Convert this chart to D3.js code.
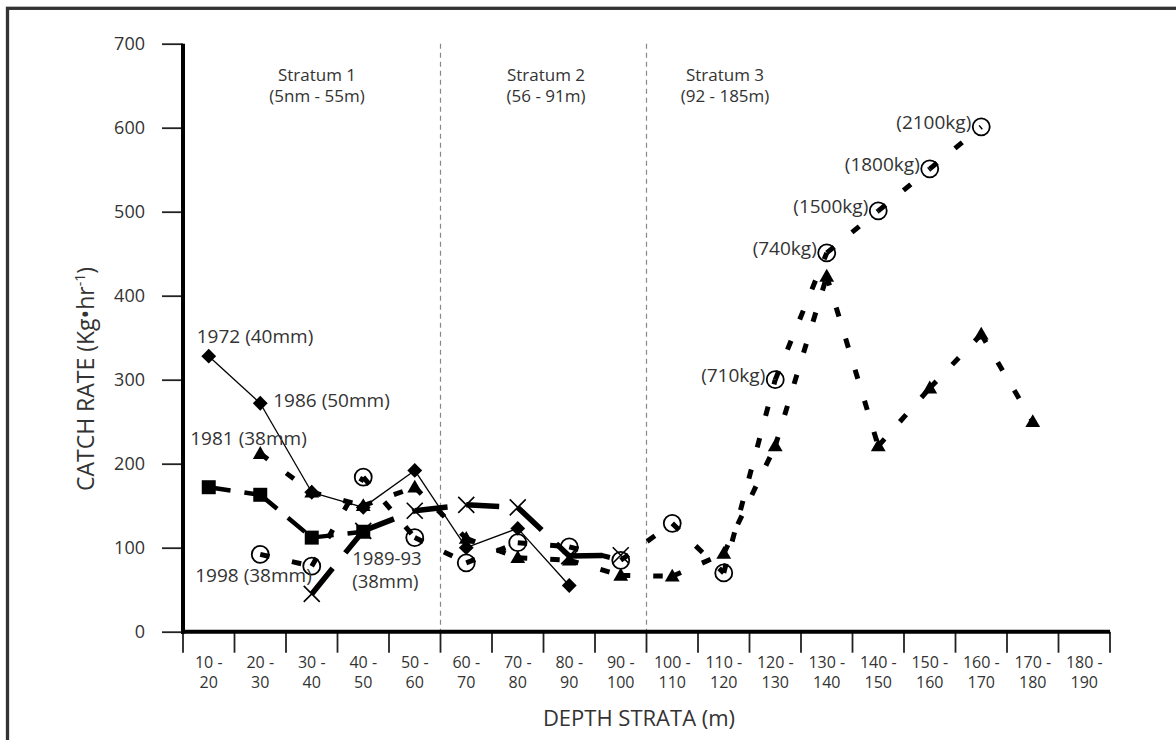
<!DOCTYPE html>
<html>
<head>
<meta charset="utf-8">
<script src="https://cdn.jsdelivr.net/npm/d3@7"></script>
<style>
body { margin: 0; background: #fff; }
svg text { font-family: "Open Sans", "Noto Sans", sans-serif; fill: #333; }
</style>
</head>
<body>
<svg id="chart" width="1176" height="740"></svg>
<script>
// depth strata (m)
var cats = ["10-20", "20-30", "30-40", "40-50", "50-60", "60-70", "70-80", "80-90", "90-100",
            "100-110", "110-120", "120-130", "130-140", "140-150", "150-160", "160-170", "170-180", "180-190"];
var yTicks = [0, 100, 200, 300, 400, 500, 600, 700];

// catch rate (kg/hr) per stratum, null = no tow
var diamonds  = [328, 272, 166, 148, 192, 100, 123, 55, null, null, null, null, null, null, null, null, null, null];
var triangles = [null, 212, 166, 150, 172, 111, 88, 85, 67, 66, 93, 221, 423, 221, 290, 354, 250, null];
var circles   = [null, 92, 78, 184, 112, 82, 106, 101, 85, 129, 70, 300, 451, 501, 551, 601, null, null];
var squares   = [172, 163, 112, 119, null, null, null, null, null, null, null, null, null, null, null, null, null, null];
var crosses   = [null, null, 45, 120, 144, 151, 148, 90, 91, null, null, null, null, null, null, null, null, null];

var catchCats   = ["120-130", "130-140", "140-150", "150-160", "160-170"];
var catchLabels = ["(710kg)", "(740kg)", "(1500kg)", "(1800kg)", "(2100kg)"];

var strataNames  = ["Stratum 1", "Stratum 2", "Stratum 3"];
var strataRanges = ["(5nm - 55m)", "(56 - 91m)", "(92 - 185m)"];
var strataBreaks = ["60-70", "100-110"];

var svg = d3.select("#chart");

// outer frame (only top and left edges show)
svg.append("rect")
    .attr("x", 7.5).attr("y", 8.3)
    .attr("width", 1400).attr("height", 1000)
    .attr("fill", "none")
    .attr("stroke", "#333")
    .attr("stroke-width", 3.3);

var x = d3.scaleBand().domain(cats).range([183, 1110]);
var bw = x.bandwidth();
function xc(c) { return x(c) + bw / 2; }
var y = d3.scaleLinear().domain([0, 700]).range([631.7, 43.7]);

// stratum separators
svg.selectAll(".sep")
    .data(strataBreaks)
    .enter().append("line")
    .attr("x1", function(d) { return x(d); })
    .attr("x2", function(d) { return x(d); })
    .attr("y1", y(700)).attr("y2", y(0))
    .attr("stroke", "#888")
    .attr("stroke-width", 1.2)
    .attr("stroke-dasharray", "5,4");

// y axis
var yAxis = d3.axisLeft(y).tickValues(yTicks).tickSize(21).tickPadding(17);
var gy = svg.append("g").attr("transform", "translate(183,0)").call(yAxis);
gy.select(".domain").remove();
gy.selectAll("line").attr("stroke", "#222").attr("stroke-width", 1.8);
gy.selectAll("text").style("font-size", "18px").attr("fill", "#333");

// x axis ticks at stratum edges
var edges = cats.map(function(c) { return x(c); }).concat([x.range()[1]]);
svg.selectAll(".xtick")
    .data(edges)
    .enter().append("line")
    .attr("x1", function(d) { return d; })
    .attr("x2", function(d) { return d; })
    .attr("y1", y(0)).attr("y2", y(0) + 21)
    .attr("stroke", "#222")
    .attr("stroke-width", 1.8);

// two-line tick labels, one text per line
svg.selectAll(".xlab1")
    .data(cats)
    .enter().append("text")
    .attr("x", function(d) { return xc(d); })
    .attr("y", 667.5)
    .attr("text-anchor", "middle")
    .style("font-size", "16px")
    .text(function(d) { return d.split("-")[0] + " -"; });
svg.selectAll(".xlab2")
    .data(cats)
    .enter().append("text")
    .attr("x", function(d) { return xc(d); })
    .attr("y", 688)
    .attr("text-anchor", "middle")
    .style("font-size", "16px")
    .text(function(d) { return d.split("-")[1]; });

// axis lines
svg.append("line")
    .attr("x1", 183).attr("x2", 183)
    .attr("y1", y(700)).attr("y2", y(0) + 2)
    .attr("stroke", "#000").attr("stroke-width", 4);
svg.append("line")
    .attr("x1", 181).attr("x2", x.range()[1])
    .attr("y1", y(0)).attr("y2", y(0))
    .attr("stroke", "#000").attr("stroke-width", 4);

// axis titles
svg.append("text")
    .attr("x", 639).attr("y", 726)
    .attr("text-anchor", "middle")
    .style("font-size", "22px")
    .text("DEPTH STRATA (m)");

var yt = svg.append("text")
    .attr("transform", "translate(94,379) rotate(-90)")
    .attr("text-anchor", "middle")
    .style("font-size", "23px");
yt.append("tspan").text("CATCH RATE (Kg\u2022hr");
yt.append("tspan").attr("dy", -9).style("font-size", "14px").text("-1");
yt.append("tspan").attr("dy", 9).text(")");

// stratum headings
var strataX = [317, 546, 725];
strataNames.forEach(function(s, i) {
    svg.append("text")
        .attr("x", strataX[i]).attr("y", 81)
        .attr("text-anchor", "middle")
        .style("font-size", "17px")
        .text(s);
    svg.append("text")
        .attr("x", strataX[i]).attr("y", 102)
        .attr("text-anchor", "middle")
        .style("font-size", "17px")
        .text(strataRanges[i]);
});

// series
function points(vals) {
    var pts = [];
    vals.forEach(function(v, i) {
        if (v != null) pts.push({ c: cats[i], v: v, x: xc(cats[i]), y: y(v) });
    });
    return pts;
}

var line = d3.line()
    .x(function(d) { return d.x; })
    .y(function(d) { return d.y; });

// each segment restarts its dash pattern, like the source chart
function drawLine(pts, width, dash) {
    var g = svg.append("g");
    g.selectAll("path")
        .data(d3.pairs(pts))
        .enter().append("path")
        .attr("d", line)
        .attr("fill", "none")
        .attr("stroke", "#000")
        .attr("stroke-width", width)
        .attr("stroke-dasharray", dash);
}

var pCross = points(crosses);
var pSquare = points(squares);
var pCircle = points(circles);
var pTri = points(triangles);
var pDia = points(diamonds);

drawLine(pCross, 5.5, "33,20");
drawLine(pSquare, 4.5, "22,14");
drawLine(pCircle, 5, "9.5,23");
drawLine(pTri, 5, "9.5,23");
drawLine(pDia, 1.3, null);

// markers
svg.append("g").selectAll("path")
    .data(pCross)
    .enter().append("path")
    .attr("d", function(d) {
        return "M" + (d.x - 8) + "," + (d.y - 8) + "L" + (d.x + 8) + "," + (d.y + 8) +
               "M" + (d.x - 8) + "," + (d.y + 8) + "L" + (d.x + 8) + "," + (d.y - 8);
    })
    .attr("stroke", "#000")
    .attr("stroke-width", 1.6);

svg.append("g").selectAll("path")
    .data(pSquare)
    .enter().append("path")
    .attr("transform", function(d) { return "translate(" + d.x + "," + d.y + ")"; })
    .attr("d", d3.symbol().type(d3.symbolSquare).size(196))
    .attr("fill", "#000");

svg.append("g").selectAll("circle")
    .data(pCircle)
    .enter().append("circle")
    .attr("cx", function(d) { return d.x; })
    .attr("cy", function(d) { return d.y; })
    .attr("r", 8.5)
    .attr("fill", "none")
    .attr("stroke", "#000")
    .attr("stroke-width", 1.8);

svg.append("g").selectAll("path")
    .data(pTri)
    .enter().append("path")
    .attr("transform", function(d) { return "translate(" + d.x + "," + (d.y + 1) + ")"; })
    .attr("d", d3.symbol().type(d3.symbolTriangle).size(95))
    .attr("fill", "#000");

svg.append("g").selectAll("path")
    .data(pDia)
    .enter().append("path")
    .attr("transform", function(d) { return "translate(" + d.x + "," + d.y + ") rotate(45)"; })
    .attr("d", d3.symbol().type(d3.symbolSquare).size(110))
    .attr("fill", "#000");

// catch weight labels on the 1998 circles
svg.selectAll(".catch")
    .data(catchCats)
    .enter().append("text")
    .attr("x", function(d) { return xc(d) - 10; })
    .attr("y", function(d) { return y(circles[cats.indexOf(d)]) + 2; })
    .attr("text-anchor", "end")
    .style("font-size", "19px")
    .text(function(d, i) { return catchLabels[i]; });

// series labels
function label(txt, c, v, dx, dy, fs) {
    svg.append("text")
        .attr("x", xc(c) + dx)
        .attr("y", y(v) + dy)
        .style("font-size", (fs || 19) + "px")
        .text(txt);
}
label("1972 (40mm)", "10-20", diamonds[0], -12, -13);
label("1986 (50mm)", "20-30", diamonds[1], 13, 4);
label("1981 (38mm)", "20-30", triangles[1], -70, -9);
label("1998 (38mm)", "20-30", circles[1], -65, 28);
label("1989-93", "40-50", squares[3], -11, 33, 18.5);
label("(38mm)", "40-50", squares[3], -11, 56.5, 18.5);
</script>
</body>
</html>
